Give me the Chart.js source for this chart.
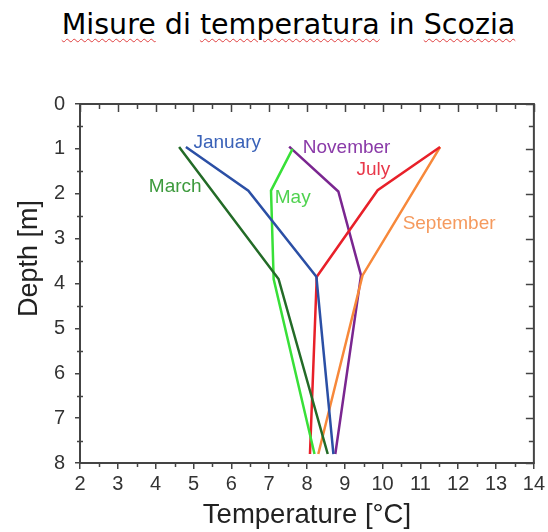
<!DOCTYPE html>
<html>
<head>
<meta charset="utf-8">
<script src="https://cdn.jsdelivr.net/npm/chart.js@4.4.1/dist/chart.umd.min.js"></script>
<style>
  html, body { margin: 0; padding: 0; background: #ffffff; }
  #wrap { position: relative; width: 548px; height: 532px; }
  #title {
    position: absolute; left: 0; top: 8px; width: 548px;
    padding-left: 29px; box-sizing: border-box;
    text-align: center; white-space: nowrap;
    font-family: "DejaVu Sans", sans-serif; font-size: 28.5px; color: #000;
  }
  #title .typo {
    text-decoration: underline wavy #e04040;
    text-decoration-thickness: 1px;
    text-underline-offset: 4px;
  }
  canvas { position: absolute; left: 0; top: 0; }
</style>
</head>
<body>
<div id="wrap">
  <div id="title"><span class="typo">Misure</span> di <span class="typo">temperatura</span> in <span class="typo">Scozia</span></div>
  <canvas id="chart" width="548" height="532"></canvas>
</div>
<script>
// Depth profiles: temperature [°C] vs depth [m]
const months = ['January', 'March', 'May', 'July', 'September', 'November'];

const januaryTemp = [4.8, 6.45, 8.25, 8.7];
const januaryDepth = [0.96, 1.93, 3.85, 7.8];

const marchTemp = [4.62, 7.25, 8.55];
const marchDepth = [0.96, 3.9, 7.8];

const mayTemp = [7.62, 7.05, 7.12, 8.2];
const mayDepth = [1.0, 1.93, 3.9, 7.8];

const julyTemp = [11.52, 9.87, 8.26, 8.08];
const julyDepth = [0.96, 1.92, 3.85, 7.8];

const septemberTemp = [11.52, 9.47, 8.3];
const septemberDepth = [0.96, 3.82, 7.8];

const novemberTemp = [7.53, 8.83, 9.43, 8.75];
const novemberDepth = [0.95, 1.95, 3.82, 7.8];

// where each month's name sits, in data coordinates (temperature, depth)
const labelTemp = [5.0, 3.82, 7.15, 9.31, 10.53, 7.89];
const labelDepth = [0.87, 1.85, 2.09, 1.47, 2.67, 0.98];

const lineColors = ['#2b4fa5', '#236b27', '#38e038', '#e82029', '#f7883a', '#7a2690'];
const textColors = ['#3a62b8', '#3d9a3d', '#4fd24f', '#e8384a', '#f59a5e', '#8a3aa8'];

const tempTicks = [2, 3, 4, 5, 6, 7, 8, 9, 10, 11, 12, 13, 14];
const depthTicks = [0, 1, 2, 3, 4, 5, 6, 7, 8];

const series = [
    [januaryTemp, januaryDepth],
    [marchTemp, marchDepth],
    [mayTemp, mayDepth],
    [julyTemp, julyDepth],
    [septemberTemp, septemberDepth],
    [novemberTemp, novemberDepth],
];

const toPoints = (xs, ys) => xs.map((x, i) => ({ x: x, y: ys[i] }));

// frame on top/right, inward ticks on top/right, minor ticks, y title and month names
const framePlugin = {
    id: 'frame',
    afterDraw(chart) {
        const { ctx, chartArea } = chart;
        const { left, right, top, bottom } = chartArea;
        const xs = chart.scales.x;
        const ys = chart.scales.y;
        ctx.save();
        ctx.strokeStyle = '#444';
        ctx.lineWidth = 2;
        ctx.strokeRect(left, top, right - left, bottom - top);

        ctx.lineWidth = 1.5;
        ctx.beginPath();
        for (let v = tempTicks[0]; v <= tempTicks[tempTicks.length - 1]; v += 0.5) {
            const px = Math.round(xs.getPixelForValue(v)) + 0.5;
            const major = Number.isInteger(v);
            ctx.moveTo(px, top);
            ctx.lineTo(px, top + (major ? 8 : 5));
            if (!major) {
                ctx.moveTo(px, bottom);
                ctx.lineTo(px, bottom + 4);
            }
        }
        for (let v = depthTicks[0]; v <= depthTicks[depthTicks.length - 1]; v += 0.5) {
            const py = Math.round(ys.getPixelForValue(v)) + 0.5;
            const major = Number.isInteger(v);
            ctx.moveTo(right, py);
            ctx.lineTo(right - (major ? 8 : 5), py);
            if (!major) {
                ctx.moveTo(left - 3, py);
                ctx.lineTo(left + 3, py);
            }
        }
        ctx.stroke();

        // y axis title sits a little above the middle of the axis
        ctx.save();
        ctx.translate(30, (top + bottom) / 2 - 25);
        ctx.rotate(-Math.PI / 2);
        ctx.font = '27px "Liberation Sans", Arial, sans-serif';
        ctx.fillStyle = '#222';
        ctx.textAlign = 'center';
        ctx.textBaseline = 'middle';
        ctx.fillText('Depth [m]', 0, 0);
        ctx.restore();

        // month names next to their curves
        ctx.font = '19px "Liberation Sans", Arial, sans-serif';
        ctx.textBaseline = 'middle';
        ctx.textAlign = 'left';
        months.forEach((m, i) => {
            ctx.fillStyle = textColors[i];
            ctx.fillText(m, xs.getPixelForValue(labelTemp[i]), ys.getPixelForValue(labelDepth[i]));
        });
        ctx.restore();
    }
};

const ctx = document.getElementById('chart').getContext('2d');
new Chart(ctx, {
    type: 'scatter',
    data: {
        datasets: series.map((s, i) => ({
            label: months[i],
            data: toPoints(s[0], s[1]),
            showLine: true,
            borderColor: lineColors[i],
            backgroundColor: lineColors[i],
            borderWidth: 2.5,
            tension: 0,
            pointRadius: 0,
        }))
    },
    options: {
        responsive: false,
        animation: false,
        layout: { padding: { left: 10, right: 14, top: 104, bottom: 0 } },
        plugins: {
            legend: { display: false },
            tooltip: { enabled: false },
        },
        scales: {
            x: {
                type: 'linear',
                min: tempTicks[0],
                max: tempTicks[tempTicks.length - 1],
                afterBuildTicks: (scale) => { scale.ticks = tempTicks.map(v => ({ value: v })); },
                afterFit: (scale) => { scale.height = 532 - 463; },
                ticks: {
                    color: '#333',
                    font: { family: '"Liberation Sans", Arial, sans-serif', size: 20 },
                    padding: 3,
                    maxRotation: 0,
                    autoSkip: false,
                },
                grid: { drawOnChartArea: false, drawTicks: true, tickLength: 6, color: '#444', lineWidth: 1.5 },
                border: { display: true, color: '#444', width: 2 },
                title: {
                    display: true,
                    text: 'Temperature [°C]',
                    color: '#222',
                    font: { family: '"Liberation Sans", Arial, sans-serif', size: 27.5 },
                    padding: { top: 0, bottom: 0 },
                },
            },
            y: {
                type: 'linear',
                reverse: true,
                min: depthTicks[0],
                max: depthTicks[depthTicks.length - 1],
                afterBuildTicks: (scale) => { scale.ticks = depthTicks.map(v => ({ value: v })); },
                afterFit: (scale) => { scale.width = 80 - 10; },
                ticks: {
                    color: '#333',
                    font: { family: '"Liberation Sans", Arial, sans-serif', size: 20 },
                    padding: 10,
                    autoSkip: false,
                },
                grid: { drawOnChartArea: false, drawTicks: true, tickLength: 5, color: '#444', lineWidth: 1.5 },
                border: { display: true, color: '#444', width: 2 },
            },
        },
    },
    plugins: [framePlugin],
});
</script>
</body>
</html>
